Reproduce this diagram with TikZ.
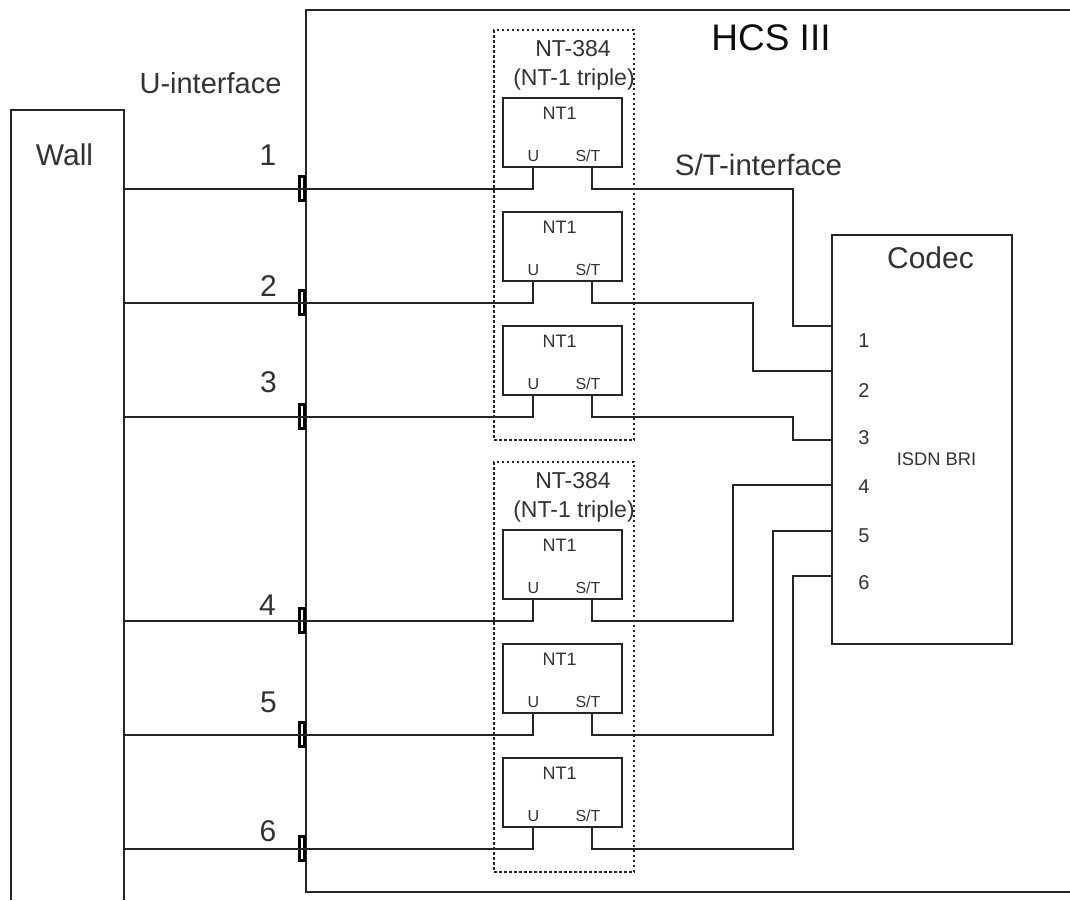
\documentclass[tikz,border=0pt]{standalone}
\usepackage{fontspec}
\setmainfont{Liberation Sans}
\newcommand{\fs}[1]{\fontsize{#1pt}{#1pt}\selectfont}
\tikzset{
  x=1pt,y=-1pt,
  wire/.style={line width=1.5pt,color=black!85},
  box/.style={draw=black!85,line width=1.5pt,fill=none,inner sep=0pt,outer sep=0pt},
  triple/.style={draw=black!85,line width=1.5pt,dash pattern=on 2.5pt off 2.5pt,inner sep=0pt,outer sep=0pt,minimum width=140pt,minimum height=410pt},
  ntbox/.style={box,minimum width=119pt,minimum height=69pt},
  jack/.style={draw=black,line width=3pt,inner sep=0pt,outer sep=0pt,minimum width=5.5pt,minimum height=23.5pt},
  lbl/.style={inner sep=0pt,outer sep=0pt,color=black!80,font=\fs{#1},anchor=base,yshift=-0.358*#1 pt},
}
\begin{document}
\begin{tikzpicture}
\useasboundingbox (0,0) rectangle (1070,900);
\clip (0,0) rectangle (1070,900);
\fill[white] (0,0) rectangle (1070,900);
% open-ended frames
\draw[wire] (124,900) -- (124,110) -- (11,110) -- (11,900);
\draw[wire] (1070,10) -- (306,10) -- (306,892) -- (1070,892);
\node[box,minimum width=180pt,minimum height=409pt] (codec) at (922,439.5) {};
\node[triple] (tripA) at (564,235) {};
\node[triple] (tripB) at (564,667) {};
\foreach \i/\t/\w/\py/\vx in {1/132.5/189/326/793,2/246.5/303/371/753,3/360.5/417/440/793,4/564.5/621/485/733,5/678.5/735/531/773,6/792.5/849/576/793}{
  \node[ntbox] (nt\i) at (562.5,\t) {};
  \node[lbl=18] (ntl\i) at (559.5,\t-19) {NT1};
  \node[lbl=16] (u\i) at (533.5,\t+23) {U};
  \node[lbl=16] (st\i) at (588,\t+23) {S/T};
  \node[jack] (jack\i) at (302.2,\w-0.5) {};
  \coordinate (wallport\i) at (124,\w);
  \coordinate (in\i) at (533,\t+34.5);
  \coordinate (out\i) at (592,\t+34.5);
  \coordinate (port\i) at (codec.west |- 0,\py);
  \draw[wire] (wallport\i) -- (jack\i.center |- wallport\i) -| (in\i);
  \draw[wire] (out\i) |- (\vx,\w) -- (\vx,\py) -- (port\i);
}
\node[lbl=37,color=black!95] (hcs) at (771,37.5) {HCS III};
\node[lbl=29] (uif) at (210.5,83) {U-interface};
\node[lbl=30] (walll) at (64.5,155) {Wall};
\node[lbl=29.5] (stif) at (758.5,165) {S/T-interface};
\node[lbl=30] (codecl) at (930.5,257.5) {Codec};
\node[lbl=23] (a1) at (573,48) {NT-384};
\node[lbl=23] (a2) at (574,77) {(NT-1 triple)};
\node[lbl=23] (b1) at (573,480) {NT-384};
\node[lbl=23] (b2) at (574,509) {(NT-1 triple)};
\foreach \n/\x/\y in {1/268/154.5,2/268.5/286,3/268.5/382,4/267.5/604.5,5/268.5/702,6/268/831}{
  \node[lbl=30] (wn\n) at (\x,\y) {\n};
}
\foreach \n/\y in {1/340.5,2/390,3/437.5,4/486.5,5/535.5,6/582.5}{
  \node[lbl=20] (cn\n) at (864,\y) {\n};
}
\node[lbl=18.3] (isdn) at (936.5,458.5) {ISDN BRI};
\end{tikzpicture}
\end{document}
